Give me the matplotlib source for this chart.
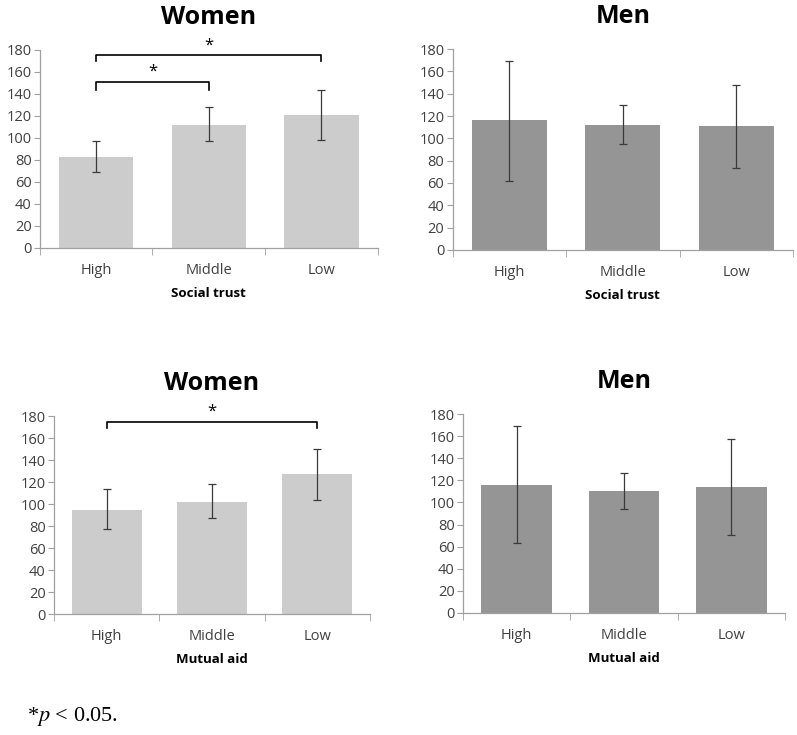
import matplotlib
matplotlib.use("Agg")
import matplotlib.pyplot as plt

plt.rcParams['font.family'] = ['Open Sans', 'DejaVu Sans']
plt.rcParams['mathtext.fontset'] = 'stix'

categories = ['High', 'Middle', 'Low']

# mean values and error-bar limits
women_trust = [83, 112, 121]
women_trust_lo = [69, 97, 98]
women_trust_hi = [97, 128, 144]

men_trust = [116, 112, 111]
men_trust_lo = [62, 95, 73]
men_trust_hi = [169, 130, 148]

women_aid = [95, 102, 127]
women_aid_lo = [77, 87, 104]
women_aid_hi = [114, 118, 150]

men_aid = [116, 110, 114]
men_aid_lo = [63, 94, 71]
men_aid_hi = [169, 127, 157]

# significance brackets: (from, to, height, leg bottom)
trust_brackets = [(0, 2, 175, 170), (0, 1, 151, 144)]
aid_brackets = [(0, 2, 175, 169)]

women_color = '#cccccc'
men_color = '#959595'

fig = plt.figure(figsize=(7.97, 7.35), dpi=100)


def panel(rect, vals, lo, hi, color, title, xlabel, brackets=()):
    ax = fig.add_axes(rect)
    x = range(len(categories))
    err = [[v - l for v, l in zip(vals, lo)], [h - v for v, h in zip(vals, hi)]]
    ax.bar(x, vals, width=0.66, color=color, zorder=2)
    ax.errorbar(x, vals, yerr=err, fmt='none', ecolor='#3a3a3a',
                elinewidth=0.9, capsize=3, capthick=0.9, zorder=3)
    ax.set_xlim(-0.5, 2.5)
    ax.set_ylim(0, 180)
    ax.set_yticks(range(0, 181, 20))
    ax.set_xticks([0, 1, 2])
    ax.set_xticklabels(categories)
    ax.set_xticks([-0.5, 0.5, 1.5, 2.5], minor=True)
    ax.tick_params(axis='x', which='major', length=0, pad=11,
                   labelsize=10.5, labelcolor='#404040')
    ax.tick_params(axis='x', which='minor', length=5, color='#a0a0a0',
                   direction='out')
    ax.tick_params(axis='y', length=4, color='#a0a0a0', labelsize=10.5,
                   labelcolor='#404040', pad=2)
    for s in ['top', 'right']:
        ax.spines[s].set_visible(False)
    for s in ['left', 'bottom']:
        ax.spines[s].set_color('#a0a0a0')
        ax.spines[s].set_linewidth(0.9)
    ax.set_title(title, fontsize=18, fontweight='bold', pad=19)
    ax.set_xlabel(xlabel, fontsize=9.5, fontweight='bold', labelpad=6)
    for a, b, h, leg in brackets:
        ax.plot([a, a, b, b], [leg, h, h, leg], color='black', lw=1.2,
                clip_on=False, zorder=4)
        ax.text((a + b) / 2, h + 2, '*', ha='center', va='bottom',
                fontsize=12, clip_on=False)
    return ax


panel([0.050, 0.6626, 0.424, 0.2694], women_trust, women_trust_lo,
      women_trust_hi, women_color, 'Women', 'Social trust', trust_brackets)
panel([0.568, 0.6599, 0.427, 0.2734], men_trust, men_trust_lo,
      men_trust_hi, men_color, 'Men', 'Social trust')
panel([0.068, 0.1646, 0.396, 0.2694], women_aid, women_aid_lo,
      women_aid_hi, women_color, 'Women', 'Mutual aid', aid_brackets)
panel([0.581, 0.1660, 0.404, 0.2707], men_aid, men_aid_lo,
      men_aid_hi, men_color, 'Men', 'Mutual aid')

fig.text(0.034, 0.010, r'*$p$ < 0.05.', family='Liberation Serif',
         fontsize=16, ha='left', va='bottom')

fig.savefig('out.png', dpi=100)
